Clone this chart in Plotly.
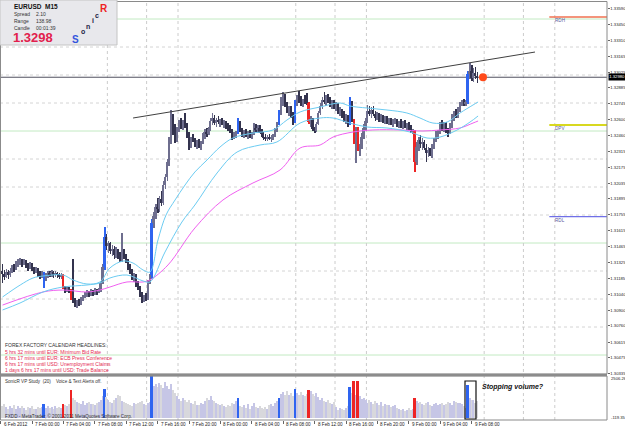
import plotly.graph_objects as go

# ---------------- data (prices in pips above 1.3000) ----------------
opens = [125,122,120,124,121,125,128,127,131,133,
         135,132,134,130,128,131,127,125,127,123,
         121,123,118,121,123,122,124,121,123,122,
         120,121,110,108,110,107,100,98,95,97,
         96,100,103,104,106,104,107,105,108,106,
         108,114,129,155,147,150,143,145,139,143,
         138,135,141,138,134,128,124,119,121,113,
         110,104,99,102,100,115,121,168,174,182,
         180,189,186,202,209,222,241,255,250,242,
         252,257,255,258,255,246,238,243,241,238,
         240,237,239,246,249,247,252,259,262,257,
         260,258,259,256,257,254,252,250,245,247,
         248,258,251,247,249,246,248,245,247,253,
         251,253,249,247,244,243,245,243,244,246,
         251,256,266,277,280,274,268,270,264,258,
         276,279,277,274,278,276,275,258,261,252,
         250,256,266,272,278,276,280,277,273,276,
         272,274,267,269,264,260,263,256,276,260,
         240,252,234,236,245,253,259,268,265,269,
         265,262,264,260,263,259,261,258,260,257,
         259,260,256,258,255,257,254,255,252,249,
         250,222,236,242,238,240,235,230,233,229,
         236,242,247,249,255,252,256,250,248,255,
         262,266,264,269,274,275,274,276,301,304,
         297,302,299]
highs = [131,126,127,126,128,130,131,134,136,137,
         136,136,135,132,133,132,129,129,128,125,
         125,124,123,125,125,126,125,125,124,123,
         123,122,112,112,111,109,136,101,99,100,
         102,104,106,108,107,109,108,110,109,110,
         116,131,164,158,152,151,148,147,146,145,
         142,159,145,140,136,131,127,123,122,116,
         112,106,104,105,117,122,171,178,185,190,
         192,196,205,212,225,245,269,265,256,254,
         260,262,260,266,257,249,245,247,244,242,
         243,241,248,252,253,254,262,266,264,262,
         263,261,262,260,259,257,255,252,249,250,
         262,259,253,251,252,250,251,249,257,256,
         255,255,252,249,247,246,247,246,247,253,
         258,269,280,285,283,276,272,272,267,278,
         282,286,281,279,282,284,276,263,262,254,
         258,268,275,280,285,282,283,280,278,278,
         276,275,271,270,268,265,264,280,277,261,
         254,254,238,248,256,262,273,272,271,272,
         268,267,266,265,264,263,263,262,262,261,
         262,261,259,261,259,260,257,258,255,252,
         251,240,245,246,244,242,238,236,235,238,
         244,250,251,258,260,258,258,253,257,265,
         268,270,271,276,278,279,278,304,311,309,
         306,307,303]
lows = [114,117,119,118,120,123,124,126,129,130,
        129,130,128,125,127,125,122,123,120,118,
        119,110,116,119,120,120,119,120,119,118,
        118,109,105,106,105,99,96,93,92,94,
        95,98,101,102,102,103,103,104,104,105,
        106,113,126,144,141,140,138,136,137,136,
        133,133,136,132,126,122,117,115,111,108,
        102,96,97,98,99,113,118,163,171,177,
        178,183,184,198,205,219,238,246,239,240,
        249,252,251,253,244,233,235,240,236,234,
        235,233,238,243,245,246,250,255,255,254,
        256,254,255,253,252,250,248,242,243,244,
        247,249,245,244,245,243,244,243,246,249,
        248,248,245,242,241,241,242,240,242,245,
        249,255,264,272,271,266,263,262,255,257,
        272,275,272,271,274,273,256,254,250,248,
        249,255,264,270,274,272,275,271,270,270,
        268,265,263,262,258,256,254,255,258,238,
        221,232,228,234,243,250,257,263,262,263,
        259,260,258,258,257,256,256,255,255,254,
        256,254,253,253,252,253,251,251,248,247,
        213,220,232,235,233,233,222,227,228,226,
        234,240,243,247,250,249,248,245,247,253,
        259,262,262,267,272,272,272,274,296,295,
        294,296,293]
closes = [122,120,124,121,125,128,127,131,133,135,
          132,134,130,128,131,127,125,127,123,121,
          123,118,121,123,122,124,121,123,122,120,
          121,110,108,110,107,100,98,95,97,96,
          100,103,104,106,104,107,105,108,106,108,
          114,129,155,147,150,143,145,139,143,138,
          135,141,138,134,128,124,119,121,113,110,
          104,99,102,100,115,121,168,174,182,180,
          189,186,202,209,222,241,255,250,242,252,
          257,255,258,255,246,238,243,241,238,240,
          237,239,246,249,247,252,259,262,257,260,
          258,259,256,257,254,252,250,245,247,248,
          258,251,247,249,246,248,245,247,253,251,
          253,249,247,244,243,245,243,244,246,251,
          256,266,277,280,274,268,270,264,258,276,
          279,277,274,278,276,275,258,261,252,250,
          256,266,272,278,276,280,277,273,276,272,
          274,267,269,264,260,263,256,276,260,240,
          252,234,236,245,253,259,268,265,269,265,
          262,264,260,263,259,261,258,260,257,259,
          260,256,258,255,257,254,255,252,249,250,
          222,236,242,238,240,235,230,233,229,236,
          242,247,249,255,252,256,250,248,255,262,
          266,264,269,274,275,274,276,301,304,297,
          302,299,298]
volumes = [700,820,650,560,720,600,780,540,690,610,
           740,580,500,660,620,700,560,520,640,590,
           680,845,620,700,580,660,540,720,600,650,
           580,850,760,690,820,1650,1200,1050,980,900,
           860,1020,780,900,940,820,860,760,900,950,
           1100,1300,1720,1250,1100,980,900,1050,1200,1350,
           1300,1000,950,900,820,760,700,880,840,900,
           950,1020,860,780,880,980,2490,1900,2050,1850,
           2100,1950,1800,2150,1900,1750,2000,1700,1500,1300,
           1150,1000,1200,1100,950,1050,900,850,1000,800,
           750,900,820,1000,1200,1100,1300,1050,1000,900,
           820,760,850,700,650,780,720,900,850,1000,
           1170,700,650,760,600,820,560,700,900,640,
           580,720,600,520,680,560,760,850,700,900,
           1000,1170,1450,1550,1400,1600,1350,1500,1300,1720,
           1500,1350,1550,1400,1300,1450,1680,1600,1450,1300,
           1500,1250,1100,1200,1000,950,1100,900,850,950,
           650,500,600,550,480,620,700,1830,1500,2220,
           1400,2220,1300,1150,1200,1050,900,1100,950,850,
           1000,900,800,950,700,850,750,800,650,700,
           780,600,520,450,560,400,500,620,480,550,
           1220,1000,900,950,850,800,900,950,780,700,
           850,900,800,850,900,760,820,950,900,780,
           1000,950,880,920,850,700,600,1940,1200,1100,
           1050,900,1000]
blue_bars = [21, 52, 76, 120, 141, 149, 177, 237]
red_bars = [31, 35, 156, 179, 181, 210]

# moving averages: (bar index, pips)
cyan_fast_x = [0, 9, 15.5, 20.6, 30.8, 35.9, 43, 49.6, 54.7, 61.4, 66.5, 71.6, 75.1, 79.2, 83.3, 87.9, 93, 98,
               104.2, 110.8, 117.4, 127.6, 137.8, 144.9, 151.6, 161.8, 172, 177, 185.7, 195.9, 206, 212.7,
               219.3, 226.5, 233.1, 239.7, 242.3]
cyan_fast_y = [101.8, 112.5, 118.75, 120.5, 121.4, 117, 113.4, 115.2, 127.7, 133.9, 132.1, 125.9, 124.1, 152.7,
               175, 188.4, 201.8, 213.4, 224.1, 235.7, 243.75, 248.2, 250.9, 259.8, 267, 271.4, 275, 272.3,
               270.5, 268.75, 266.1, 261.6, 257.1, 258, 266.1, 273.2, 275.9]
cyan_slow_x = [0, 8.9, 20.6, 30.8, 43, 49.6, 54.7, 63.4, 71.6, 75.1, 82.8, 91.4, 98, 109.3, 119.5, 131.2, 139.8,
               151.6, 161.8, 168.4, 177, 185.7, 195.9, 207.6, 216.3, 222.9, 231.6, 238.2, 242.3]
cyan_slow_y = [90.2, 96.4, 106.25, 110.7, 112.5, 114.3, 118.75, 121.4, 116.1, 115.2, 142, 168.75, 183.9, 212.5,
               231.25, 237.5, 240.2, 257.1, 261.6, 261.6, 257.1, 253.6, 252.7, 249.1, 243.75, 244.6, 250.9,
               258, 263.4]
magenta_x = [0, 20.6, 30.8, 43, 49.6, 54.7, 63.4, 71.6, 75.1, 84.3, 98, 112.3, 127.6, 141.4, 151.6, 161.8,
             168.4, 178.6, 188.7, 202.5, 214.2, 222.9, 233.1, 239.7, 242.3]
magenta_y = [94.6, 106.25, 108, 106.25, 108, 110.7, 115.2, 115.2, 117, 130.4, 163.4, 188.4, 203.6, 215.2,
             234.8, 237.5, 244.6, 249.1, 250.9, 250.9, 250, 250.9, 252.7, 257.1, 258.9]

trend_x = [66.5, 271.3]
trend_y = [1.32616, 1.33205]
current_price = 1.32980
price_marker_bar = 244.8

round_levels = [1.3050, 1.3150, 1.3250, 1.3350]
quarter_levels = [1.3075, 1.3100, 1.3125, 1.3175, 1.3200, 1.3225, 1.3275, 1.3300, 1.3325]
pivot_names = ["RDH", "DPV", "RDL"]
pivot_values = [1.33518, 1.32554, 1.31735]
pivot_colors = ["#f07050", "#d8d820", "#7070e8"]
pivot_start_bar = 278.6
session_bars = [53.4, 73.4, 89.4, 149.4, 169.4, 185.4, 245.4, 265.4, 281.4]

price_ticks = ["1.33590", "1.33450", "1.33310", "1.33165", "1.33025", "1.32885", "1.32745", "1.32600",
               "1.32460", "1.32315", "1.32175", "1.32035", "1.31895", "1.31755", "1.31615", "1.31465",
               "1.31325", "1.31185", "1.31040", "1.30900", "1.30760", "1.30615", "1.30475", "1.30335"]
date_tick_bars = [-1, 15, 31, 47, 63, 79, 95, 111, 127, 143, 159, 175, 191, 207, 223, 239]
date_labels = ["6 Feb 2012", "7 Feb 00:00", "7 Feb 04:00", "7 Feb 08:00", "7 Feb 12:00", "7 Feb 16:00",
               "7 Feb 20:00", "8 Feb 00:00", "8 Feb 04:00", "8 Feb 08:00", "8 Feb 12:00", "8 Feb 16:00",
               "8 Feb 20:00", "9 Feb 00:00", "9 Feb 04:00", "9 Feb 08:00"]
vol_max, vol_min = 2506.26, -119.35

info_title = "EURUSD  M15"
info_labels = ["Spread", "Range", "Candle"]
info_values = ["2.10", "138.98", "00:01:39"]
big_price = "1.3298"
news_title = "FOREX FACTORY CALENDAR HEADLINES:"
news_lines = ["5 hrs 32 mins until EUR: Minimum Bid Rate",
              "6 hrs 17 mins until EUR: ECB Press Conference",
              "6 hrs 17 mins until USD: Unemployment Claims",
              "1 days 6 hrs 17 mins until USD: Trade Balance"]

n = len(closes)
assert len(opens) == n and len(highs) == n and len(lows) == n and len(volumes) == n

# ---------------- geometry helpers ----------------
W, H = 625, 429
PR, PT, PB = 607, 1, 420


def px2x(px):
    return px / PR


def py2y(py):
    return (PB - py) / (PB - PT)


def P(v):
    return 1.3 + v / 10000.0


idx = list(range(n))
O = [P(v) for v in opens]
Hh = [P(v) for v in highs]
L = [P(v) for v in lows]
C = [P(v) for v in closes]

UP, DN, BLUE, RED = "#6e6e8e", "#33334e", "#2e64f0", "#ee2424"
body_col, vol_col, vol_w = [], [], []
for i in idx:
    if i in blue_bars:
        c, vc, w = BLUE, BLUE, 0.95
    elif i in red_bars:
        c, vc, w = RED, RED, 0.95
    else:
        up = C[i] >= O[i]
        c = UP if up else DN
        vc = "#c6c6e6" if up else "#d8d8dc"
        w = 0.6
    body_col.append(c)
    vol_col.append(vc)
    vol_w.append(w)

fig = go.Figure()

# moving averages
for xs, ys, col in [(magenta_x, magenta_y, "#f060f0"),
                    (cyan_slow_x, cyan_slow_y, "#6cccf2"),
                    (cyan_fast_x, cyan_fast_y, "#6cccf2")]:
    fig.add_trace(go.Scatter(x=xs, y=[P(v) for v in ys], mode="lines",
                             line=dict(color=col, width=1, shape="spline", smoothing=1.0),
                             xaxis="x", yaxis="y"))

# candles: wicks + bodies
fig.add_trace(go.Bar(x=idx, base=L, y=[h - l for h, l in zip(Hh, L)], width=0.42,
                     marker=dict(color=body_col, line=dict(width=0)), xaxis="x", yaxis="y"))
fig.add_trace(go.Bar(x=idx, base=[min(o, c) for o, c in zip(O, C)],
                     y=[max(abs(c - o), 0.00006) for o, c in zip(O, C)], width=0.75,
                     marker=dict(color=body_col, line=dict(width=0)), xaxis="x", yaxis="y"))

# trend line and price marker
fig.add_trace(go.Scatter(x=trend_x, y=trend_y, mode="lines", line=dict(color="#404040", width=1),
                         xaxis="x", yaxis="y"))
fig.add_trace(go.Scatter(x=[price_marker_bar], y=[current_price], mode="markers",
                         marker=dict(color="#ff4a1a", size=8), xaxis="x", yaxis="y"))

# volume histogram
fig.add_trace(go.Bar(x=idx, y=volumes, width=vol_w, marker=dict(color=vol_col, line=dict(width=0)),
                     xaxis="x", yaxis="y2"))

shapes = []
x_end = (PR - 2.56) / 1.9625
for lv in quarter_levels:
    shapes.append(dict(type="line", xref="paper", yref="y", x0=0, x1=1, y0=lv, y1=lv,
                       line=dict(color="#d4d4d4", width=1, dash="dot"), layer="below"))
for lv in round_levels:
    shapes.append(dict(type="line", xref="paper", yref="y", x0=0, x1=1, y0=lv, y1=lv,
                       line=dict(color="#c2eac2", width=1), layer="below"))
for sb in session_bars:
    shapes.append(dict(type="line", xref="x", yref="paper", x0=sb, x1=sb, y0=0, y1=1,
                       line=dict(color="#cccccc", width=1, dash="dot"), layer="below"))
shapes.append(dict(type="line", xref="paper", yref="y", x0=0, x1=1, y0=current_price, y1=current_price,
                   line=dict(color="#505060", width=1), layer="below"))
for nm, val, col in zip(pivot_names, pivot_values, pivot_colors):
    shapes.append(dict(type="line", xref="x", yref="y", x0=pivot_start_bar, x1=x_end, y0=val, y1=val,
                       line=dict(color=col, width=2 if nm == "DPV" else 1.3)))
# frames
shapes.append(dict(type="rect", xref="paper", yref="paper", x0=0.0008, x1=1, y0=py2y(374), y1=py2y(1.5),
                   line=dict(color="#8a8a8a", width=1)))
shapes.append(dict(type="rect", xref="paper", yref="paper", x0=0.0008, x1=1, y0=0, y1=py2y(376),
                   line=dict(color="#8a8a8a", width=1)))
shapes.append(dict(type="line", xref="paper", yref="paper", x0=0, x1=1, y0=py2y(375), y1=py2y(375),
                   line=dict(color="#8c8c8c", width=2.5)))
# info panel
shapes.append(dict(type="rect", xref="paper", yref="paper", x0=0, x1=px2x(117), y0=py2y(45), y1=py2y(0),
                   fillcolor="#e8e8ec", line=dict(color="#c4c4c4", width=1), layer="above"))
# stopping-volume box
shapes.append(dict(type="rect", xref="paper", yref="paper", x0=px2x(465), x1=px2x(476), y0=py2y(419),
                   y1=py2y(381), line=dict(color="#111111", width=1.2)))

FONT = "Liberation Sans, Arial, sans-serif"
ann = []


def text(px, py, s, size=5, color="#222222", anchor="left", **kw):
    ann.append(dict(xref="paper", yref="paper", x=px2x(px), y=py2y(py), text=s, showarrow=False,
                    xanchor=anchor, yanchor="middle", font=dict(family=FONT, size=size, color=color), **kw))


text(12, 6, "<b>" + info_title + "</b>", size=6.5, color="#111111")
for k, (lab, val) in enumerate(zip(info_labels, info_values)):
    text(12, 14.5 + 6.8 * k, lab, size=5, color="#333333")
    text(34, 14.5 + 6.8 * k, val, size=5, color="#333333")
text(11, 38, "<b>" + big_price + "</b>", size=13, color="#e2204c")
for ch, (cx, cy, sz, col) in zip("SonicR", [(75, 39, 10, "#3355dd"), (83, 31, 7, "#222244"),
                                             (88, 26, 7, "#222244"), (93, 21, 7, "#222244"),
                                             (97, 15, 7, "#222244"), (104, 8, 10, "#ee2222")]):
    text(cx, cy, "<b>" + ch + "</b>", size=sz, color=col, anchor="center")

text(3, 345, news_title, size=5, color="#333333")
for k, s in enumerate(news_lines):
    text(3, 351.7 + 6 * k, s, size=5, color="#e42a50")

text(3, 381, "SonicR VP Study  (20)    Voice &amp; Text Alerts off.", size=4.6, color="#333333")
text(3, 416, "FXDD - MetaTrader, © 2001-2011 MetaQuotes Software Corp.", size=4.6, color="#333333")
text(480, 387, "<b><i>Stopping volume?</i></b>", size=7, color="#111111")

for nm, val in zip(pivot_names, pivot_values):
    py = 131 + (1.3250 - val) * 11200
    text(553, py + 3.6, nm, size=4.6, color="#5a5aa0")

# date labels
for b, lab in zip(date_tick_bars, date_labels):
    ann.append(dict(xref="x", yref="paper", x=b, y=py2y(424.3), text=lab, showarrow=False, xanchor="left",
                    yanchor="middle", xshift=1, font=dict(family=FONT, size=4.6, color="#222222")))
# volume scale labels
text(608.5, 378, f"{vol_max:.2f}", size=4.2, color="#222222")
text(608.5, 417.5, f"{vol_min:.2f}", size=4.2, color="#222222")
# current price label
ann.append(dict(xref="paper", yref="y", x=1.0, y=current_price, text=f"{current_price:.5f}", showarrow=False,
                xanchor="left", yanchor="middle", bgcolor="#000000", borderpad=0.3, xshift=0.5,
                font=dict(family=FONT, size=4.2, color="#ffffff")))

main_lo = 1.3250 - (374 - 131) / 11200
main_hi = 1.3250 + (131 - 1) / 11200

fig.update_layout(
    width=W, height=H, margin=dict(l=0, r=W - PR, t=PT, b=H - PB),
    paper_bgcolor="white", plot_bgcolor="white", showlegend=False, hovermode=False,
    barmode="overlay", bargap=0,
    xaxis=dict(domain=[0, 1], anchor="y2", range=[-2.56 / 1.9625, x_end], showgrid=False, zeroline=False,
               tickvals=date_tick_bars, ticks="outside", ticklen=3, tickcolor="#666666",
               showticklabels=False, showline=False),
    yaxis=dict(domain=[py2y(374), py2y(1)], anchor="x", side="right", range=[main_lo, main_hi],
               showgrid=False, zeroline=False, tickvals=[float(t) for t in price_ticks], ticktext=price_ticks,
               ticks="outside", ticklen=1.5, tickcolor="#666666",
               tickfont=dict(family=FONT, size=4.2, color="#222222"), showline=False, automargin=False),
    yaxis2=dict(domain=[0, py2y(376)], anchor="x", side="right", range=[vol_min, vol_max], showgrid=False,
                zeroline=False, showticklabels=False, ticks="", showline=False),
    shapes=shapes, annotations=ann,
)

fig.write_html("out.html")
